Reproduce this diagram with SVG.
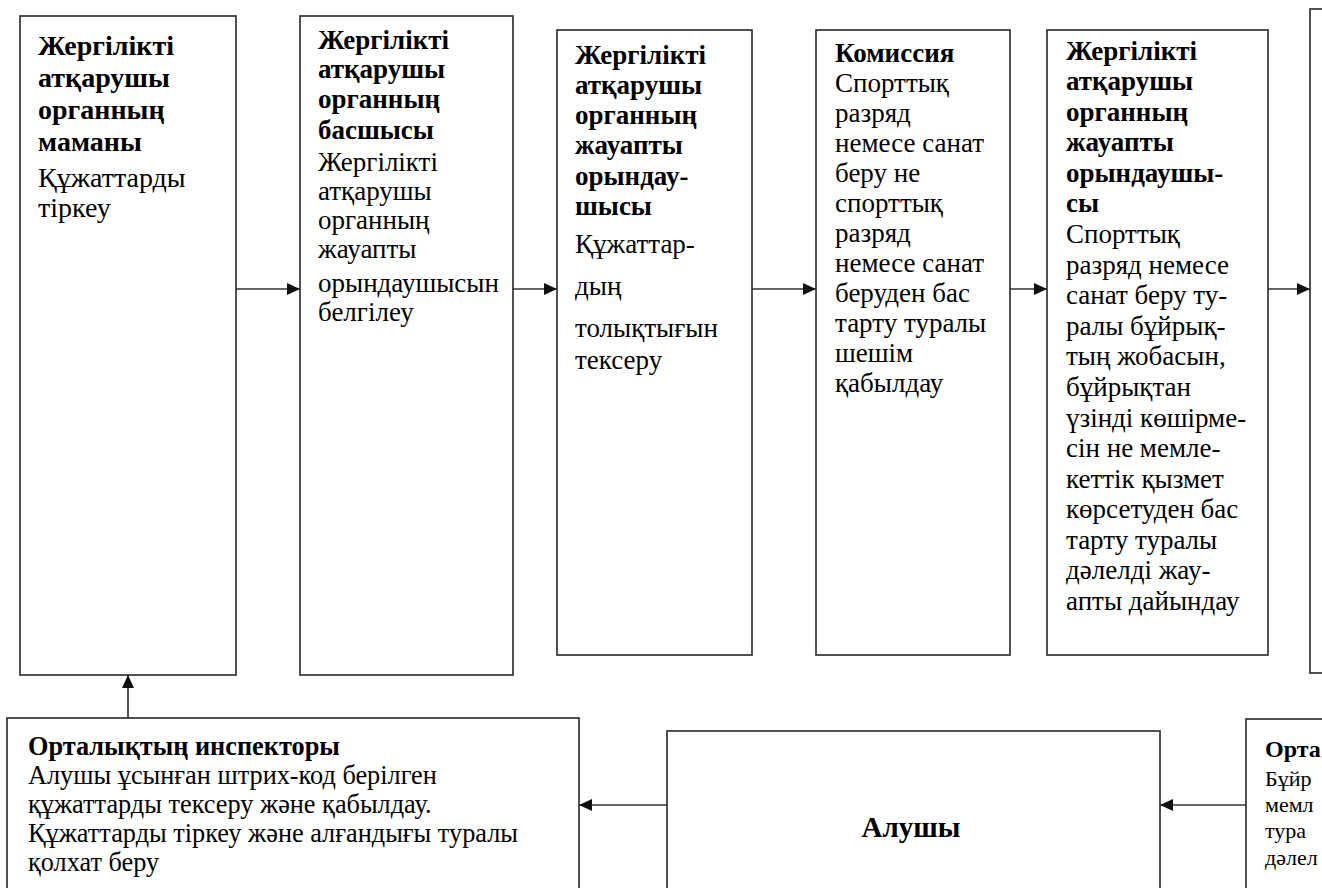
<svg xmlns="http://www.w3.org/2000/svg" width="1322" height="888" viewBox="0 0 1322 888">
<defs>
<style>
.box{fill:#fff;stroke:#333;stroke-width:1.7}
.t{font-family:'Liberation Serif','DejaVu Serif','Noto Serif',serif;font-size:27px;fill:#000}
.b{font-weight:bold}
.big{font-size:28px}
.mid{font-size:26.3px}
.sm{font-size:22px}
.con{stroke:#333;stroke-width:1.7;fill:none;marker-end:url(#ah)}
</style>
<marker id="ah" markerUnits="userSpaceOnUse" markerWidth="14" markerHeight="12" refX="13" refY="6" orient="auto">
<path d="M0,0 L13,6 L0,12 Z" fill="#111"/>
</marker>
</defs>
<rect width="1322" height="888" fill="#fff"/>

<g id="node1">
<rect class="box" x="20" y="16" width="216" height="659"/>
<text class="t big" font-family="Liberation Serif, DejaVu Serif, serif">
<tspan class="b" x="38" y="55">Жергілікті</tspan>
<tspan class="b" x="38" y="87">атқарушы</tspan>
<tspan class="b" x="38" y="119">органның</tspan>
<tspan class="b" x="38" y="151">маманы</tspan>
<tspan x="38" y="187">Құжаттарды</tspan>
<tspan x="38" y="217">тіркеу</tspan>
</text>
</g>

<g id="node2">
<rect class="box" x="300" y="16" width="213" height="659"/>
<text class="t" font-family="Liberation Serif, DejaVu Serif, serif">
<tspan class="b" x="318" y="49">Жергілікті</tspan>
<tspan class="b" x="318" y="78">атқарушы</tspan>
<tspan class="b" x="318" y="108">органның</tspan>
<tspan class="b" x="318" y="139">басшысы</tspan>
<tspan x="318" y="171">Жергілікті</tspan>
<tspan x="318" y="200">атқарушы</tspan>
<tspan x="318" y="229">органның</tspan>
<tspan x="318" y="258">жауапты</tspan>
<tspan x="318" y="292">орындаушысын</tspan>
<tspan x="318" y="321">белгілеу</tspan>
</text>
</g>

<g id="node3">
<rect class="box" x="557" y="30" width="195" height="625"/>
<text class="t" font-family="Liberation Serif, DejaVu Serif, serif">
<tspan class="b" x="575" y="64">Жергілікті</tspan>
<tspan class="b" x="575" y="94">атқарушы</tspan>
<tspan class="b" x="575" y="124">органның</tspan>
<tspan class="b" x="575" y="154">жауапты</tspan>
<tspan class="b" x="575" y="185">орындау-</tspan>
<tspan class="b" x="575" y="215">шысы</tspan>
<tspan x="575" y="253">Құжаттар-</tspan>
<tspan x="575" y="295">дың</tspan>
<tspan x="575" y="337">толықтығын</tspan>
<tspan x="575" y="369">тексеру</tspan>
</text>
</g>

<g id="node4">
<rect class="box" x="816" y="30" width="194" height="625"/>
<text class="t" font-family="Liberation Serif, DejaVu Serif, serif">
<tspan class="b" x="835" y="62">Комиссия</tspan>
<tspan x="835" y="92">Спорттық</tspan>
<tspan x="835" y="122">разряд</tspan>
<tspan x="835" y="152">немесе санат</tspan>
<tspan x="835" y="182">беру  не</tspan>
<tspan x="835" y="212">спорттық</tspan>
<tspan x="835" y="242">разряд</tspan>
<tspan x="835" y="272">немесе санат</tspan>
<tspan x="835" y="302">беруден бас</tspan>
<tspan x="835" y="332">тарту туралы</tspan>
<tspan x="835" y="362">шешім</tspan>
<tspan x="835" y="392">қабылдау</tspan>
</text>
</g>

<g id="node5">
<rect class="box" x="1047" y="30" width="221" height="625"/>
<text class="t" font-family="Liberation Serif, DejaVu Serif, serif">
<tspan class="b" x="1066" y="60">Жергілікті</tspan>
<tspan class="b" x="1066" y="90">атқарушы</tspan>
<tspan class="b" x="1066" y="121">органның</tspan>
<tspan class="b" x="1066" y="151">жауапты</tspan>
<tspan class="b" x="1066" y="182">орындаушы-</tspan>
<tspan class="b" x="1066" y="212">сы</tspan>
<tspan x="1066" y="243">Спорттық</tspan>
<tspan x="1066" y="274">разряд немесе</tspan>
<tspan x="1066" y="304">санат беру ту-</tspan>
<tspan x="1066" y="335">ралы бұйрық-</tspan>
<tspan x="1066" y="365">тың жобасын,</tspan>
<tspan x="1066" y="396">бұйрықтан</tspan>
<tspan x="1066" y="427">үзінді көшірме-</tspan>
<tspan x="1066" y="457">сін не мемле-</tspan>
<tspan x="1066" y="488">кеттік қызмет</tspan>
<tspan x="1066" y="518">көрсетуден бас</tspan>
<tspan x="1066" y="549">тарту туралы</tspan>
<tspan x="1066" y="579">дәлелді жау-</tspan>
<tspan x="1066" y="610">апты дайындау</tspan>
</text>
</g>

<g id="node6">
<rect class="box" x="1310" y="9" width="40" height="664"/>
</g>

<g id="node7">
<rect class="box" x="7" y="718" width="572" height="200"/>
<text class="t mid" font-family="Liberation Serif, DejaVu Serif, serif">
<tspan class="b" x="28" y="755">Орталықтың инспекторы</tspan>
<tspan x="28" y="784">Алушы ұсынған штрих-код берілген</tspan>
<tspan x="28" y="813">құжаттарды тексеру және қабылдау.</tspan>
<tspan x="28" y="842">Құжаттарды тіркеу және алғандығы туралы</tspan>
<tspan x="28" y="871">қолхат  беру</tspan>
</text>
</g>

<g id="node8">
<rect class="box" x="667" y="731" width="493" height="200"/>
<text class="t b" font-family="Liberation Serif, DejaVu Serif, serif" x="911" y="837" text-anchor="middle" style="font-size:29px">Алушы</text>
</g>

<g id="node9">
<rect class="box" x="1246" y="719" width="120" height="200"/>
<text class="t sm" font-family="Liberation Serif, DejaVu Serif, serif">
<tspan class="b" x="1265" y="757" style="font-size:24px">Орта</tspan>
<tspan x="1265" y="786">Бұйр</tspan>
<tspan x="1265" y="812">мемл</tspan>
<tspan x="1265" y="838">тура</tspan>
<tspan x="1265" y="865">дәлел</tspan>
</text>
</g>

<g id="connectors">
<line class="con" x1="236" y1="289" x2="300" y2="289"/>
<line class="con" x1="513" y1="289" x2="557" y2="289"/>
<line class="con" x1="752" y1="289" x2="816" y2="289"/>
<line class="con" x1="1010" y1="289" x2="1047" y2="289"/>
<line class="con" x1="1268" y1="289" x2="1310" y2="289"/>
<line class="con" x1="128" y1="718" x2="128" y2="675"/>
<line class="con" x1="667" y1="805" x2="579" y2="805"/>
<line class="con" x1="1246" y1="805" x2="1160" y2="805"/>
</g>
</svg>
